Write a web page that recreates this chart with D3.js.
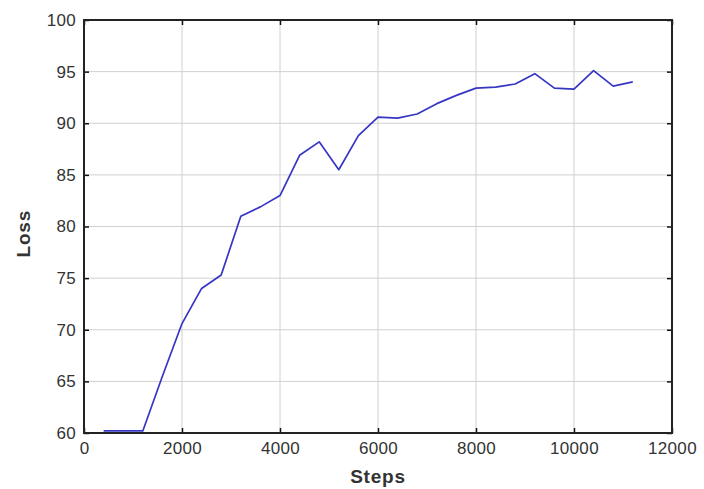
<!DOCTYPE html>
<html>
<head>
<meta charset="utf-8">
<script src="https://cdn.jsdelivr.net/npm/d3@7"></script>
<style>
  body { margin: 0; background: #fff; }
  svg { display: block; font-family: Arial, "Liberation Sans", sans-serif; }
</style>
</head>
<body>
<svg width="704" height="489"></svg>
<script>
// values
var steps = [400, 800, 1200, 1600, 2000, 2400, 2800, 3200, 3600, 4000, 4400, 4800, 5200, 5600,
             6000, 6400, 6800, 7200, 7600, 8000, 8400, 8800, 9200, 9600, 10000, 10400, 10800, 11200];
var loss = [60.2, 60.2, 60.2, 65.5, 70.6, 74.0, 75.3, 81.0, 81.9, 83.0, 86.9, 88.2, 85.5, 88.8,
            90.6, 90.5, 90.9, 91.9, 92.7, 93.4, 93.5, 93.8, 94.8, 93.4, 93.3, 95.1, 93.6, 94.0];
var xTicks = [0, 2000, 4000, 6000, 8000, 10000, 12000];
var yTicks = [60, 65, 70, 75, 80, 85, 90, 95, 100];

var svg = d3.select("svg");
var pLeft = 84, pRight = 672, pTop = 20, pBottom = 433;

var x = d3.scaleLinear().domain([0, 12000]).range([pLeft, pRight]);
var y = d3.scaleLinear().domain([60, 100]).range([pBottom, pTop]);

// grid
svg.append("g")
    .selectAll("line")
    .data(xTicks.slice(1, -1))
    .enter().append("line")
    .attr("x1", d => x(d)).attr("x2", d => x(d))
    .attr("y1", pTop).attr("y2", pBottom)
    .attr("stroke", "#d0d0d0").attr("stroke-width", 1);

svg.append("g")
    .selectAll("line")
    .data(yTicks.slice(1, -1))
    .enter().append("line")
    .attr("x1", pLeft).attr("x2", pRight)
    .attr("y1", d => y(d)).attr("y2", d => y(d))
    .attr("stroke", "#d0d0d0").attr("stroke-width", 1);

// the line
var line = d3.line()
    .x(function(d, i) { return x(steps[i]); })
    .y(function(d) { return y(d); });

svg.append("path")
    .datum(loss)
    .attr("d", line)
    .attr("fill", "none")
    .attr("stroke", "#3636c4")
    .attr("stroke-width", 1.7)
    .attr("stroke-linejoin", "round");

// axes, ticks pointing inward
var fmt = d3.format("d");
var xAxis = d3.axisBottom(x).tickValues(xTicks).tickFormat(fmt).tickSize(-5).tickPadding(9);
var yAxis = d3.axisLeft(y).tickValues(yTicks).tickFormat(fmt).tickSize(-5).tickPadding(8);

var gx = svg.append("g").attr("transform", "translate(0," + pBottom + ")").call(xAxis);
var gy = svg.append("g").attr("transform", "translate(" + pLeft + ",0)").call(yAxis);
var gxt = svg.append("g").attr("transform", "translate(0," + pTop + ")")
    .call(d3.axisTop(x).tickValues(xTicks).tickSize(-5).tickFormat(""));
var gyr = svg.append("g").attr("transform", "translate(" + pRight + ",0)")
    .call(d3.axisRight(y).tickValues(yTicks).tickSize(-5).tickFormat(""));

[gx, gy, gxt, gyr].forEach(function(g) {
    g.select(".domain").remove();
    g.selectAll(".tick line").attr("stroke", "#111").attr("stroke-width", 1.5);
    g.selectAll(".tick text")
        .attr("fill", "#333")
        .style("font-size", "17px")
        .style("letter-spacing", "0.3px")
        .style("font-family", "Arial, 'Liberation Sans', sans-serif");
});

// frame
svg.append("rect")
    .attr("x", pLeft).attr("y", pTop)
    .attr("width", pRight - pLeft).attr("height", pBottom - pTop)
    .attr("fill", "none").attr("stroke", "#222").attr("stroke-width", 2);

// labels
svg.append("text")
    .attr("x", x(6000)).attr("y", 483)
    .attr("text-anchor", "middle")
    .attr("fill", "#333")
    .style("font-size", "19px").style("font-weight", "bold")
    .style("letter-spacing", "0.8px")
    .text("Steps");

svg.append("text")
    .attr("transform", "translate(30," + y(79.3) + ") rotate(-90)")
    .attr("text-anchor", "middle")
    .attr("fill", "#333")
    .style("font-size", "19px").style("font-weight", "bold")
    .style("letter-spacing", "0.8px")
    .text("Loss");
</script>
</body>
</html>
